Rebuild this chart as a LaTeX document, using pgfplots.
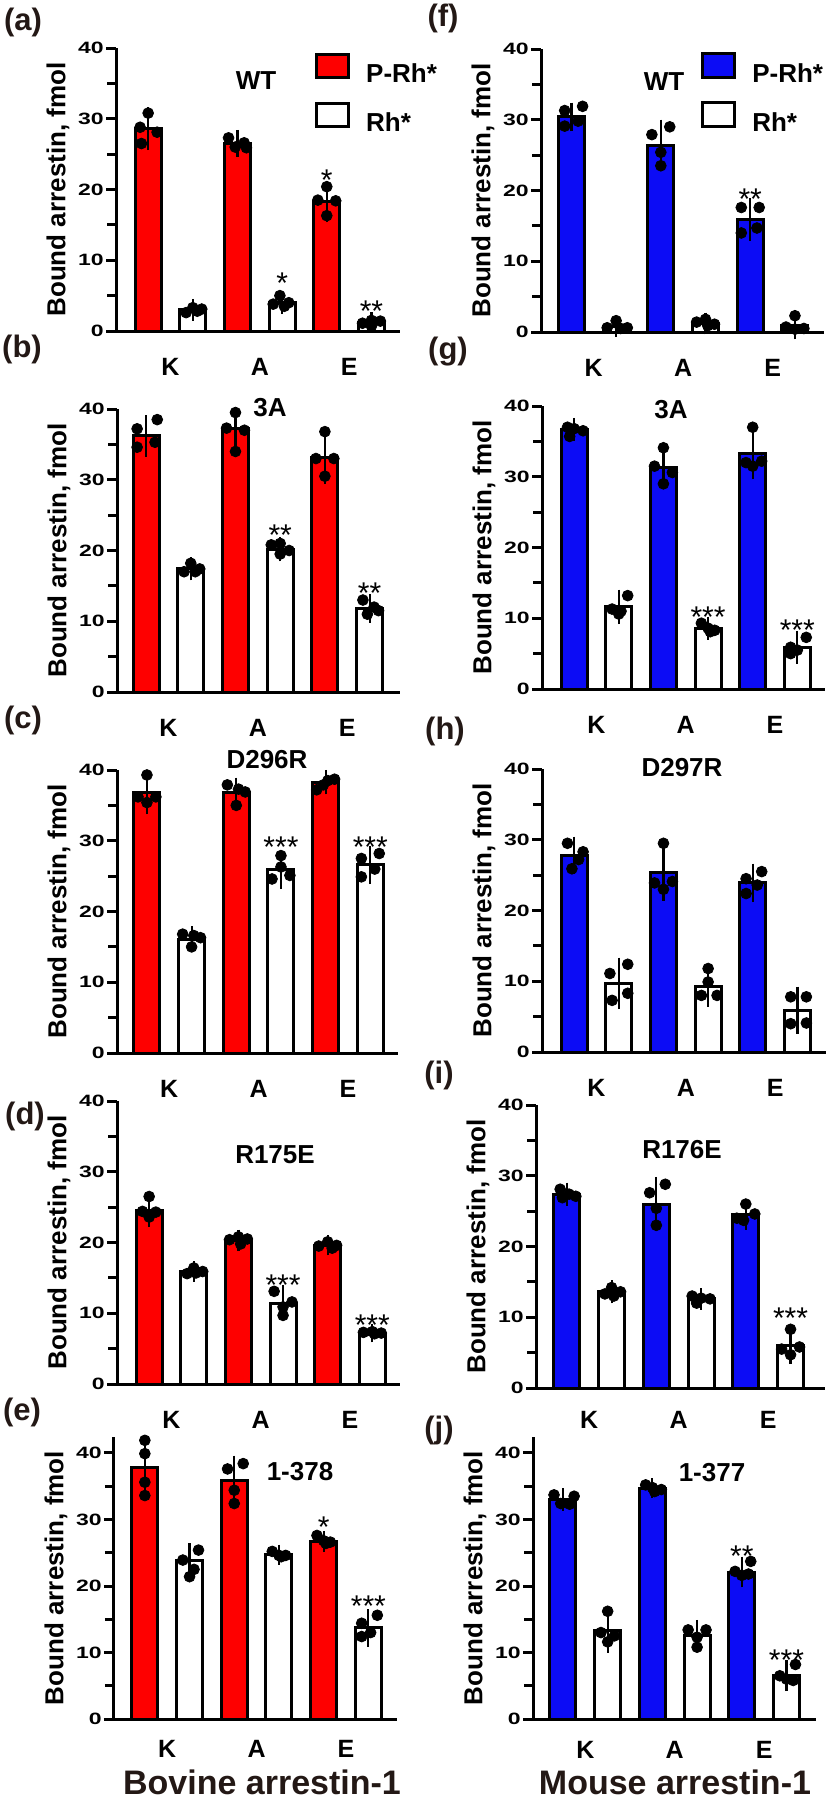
\documentclass[border=0pt]{standalone}
\usepackage{fontspec}
\setmainfont{Liberation Sans}
\usepackage{graphicx}
\usepackage{pgfplots}
\pgfplotsset{compat=1.18}

\definecolor{pred}{RGB}{254,0,0}
\definecolor{pblue}{RGB}{12,12,245}
\definecolor{labcol}{RGB}{35,24,21}

\pgfplotsset{
  panel/.style={
    scale only axis, anchor=south west, height=141.5pt,
    ymin=0, ymax=40, ytick={0,10,20,30,40}, minor ytick={5,15,25,35},
    xtick=\empty,
    axis x line=bottom, axis y line=left,
    axis line style={-, line width=1.5pt},
    tick align=outside, major tick length=5pt, minor tick length=4.5pt,
    tick style={line width=1.5pt, black},
    yticklabel={\scalebox{1.4}[1]{\pgfmathprintnumber{\tick}}},
    yticklabel style={font=\bfseries\fontsize{8.2}{8.2}\selectfont, inner sep=1pt},
    /pgf/number format/assume math mode=true,
    ylabel={Bound arrestin, fmol},
    every axis y label/.style={at={(axis description cs:0,0.5)}, xshift=-29pt,
      rotate=90, anchor=center, font=\bfseries\fontsize{13}{13}\selectfont},
    clip=false,
  },
  pbar/.style={ybar, bar width=13pt, bar shift=0pt, draw=black, line width=1.5pt, fill=#1},
  ebar/.style={draw=none, mark=none, forget plot,
    error bars/.cd, y dir=both, y explicit,
    error bar style={draw=black, line width=1.1pt},
    error mark options={draw=black, line width=1.1pt, mark size=4pt}},
  dots/.style={only marks, mark=*, mark size=2.7pt, black, forget plot},
  keyleg/.style={
    legend style={draw=none, fill=none, inner sep=0pt, row sep=8pt,
      font=\bfseries\fontsize{13}{13}\selectfont,
      nodes={inner sep=0pt}, column sep=8pt},
    legend cell align=left,
    legend image code/.code={\draw[##1, line width=1.5pt] (0pt,-1.4pt) rectangle (16pt,10.3pt);},
  },
}
\tikzset{
  klab/.style={font=\bfseries\fontsize{12.5}{12.5}\selectfont, yshift=-#1},
  klab/.default=18pt,
  star/.style={font=\fontsize{15}{15}\selectfont, anchor=base, yshift=-8.5pt, inner sep=0pt},
  ttl/.style={font=\bfseries\fontsize{13}{13}\selectfont},
  plab/.style={font=\bfseries\fontsize{15.5}{15.5}\selectfont, text=labcol, inner sep=0pt},
  btitle/.style={font=\bfseries\fontsize{17}{17}\selectfont, text=labcol, inner sep=0pt},
}

\begin{document}
\begin{tikzpicture}
\useasboundingbox (0pt,0pt) rectangle (413.5pt,-900pt);

% ---------------- (a) bovine WT
\begin{axis}[panel, keyleg, at={(58pt,-165.5pt)}, width=142pt, xmin=0.28, xmax=6.64,
  legend style={at={(axis description cs:0.70,0.985)}, anchor=north west}]
\addplot[pbar=pred] coordinates {(1,28.6) (3,26.5) (5,18.3)};
\addlegendentry{P-Rh*}
\addplot[pbar=white] coordinates {(2,3.0) (4,4.0) (6,1.2)};
\addlegendentry{Rh*}
\addplot[ebar] coordinates {(1,28.6) +- (0,1.9) (3,26.5) +- (0,0.8) (5,18.3) +- (0,1.8)
  (2,3.0) +- (0,0.4) (4,4.0) +- (0,0.5) (6,1.2) +- (0,0.3)};
\addplot[dots] coordinates {(0.82,28.8) (1.0,30.8) (1.2,28.1) (0.85,26.5)
  (1.85,2.6) (2.0,3.3) (2.2,3.1) (2.1,2.8)
  (2.8,27.3) (2.95,26.0) (3.15,26.6) (3.2,25.9)
  (3.95,5.0) (3.8,3.8) (4.15,4.0) (4.05,3.5)
  (4.8,18.5) (5.0,20.4) (5.2,18.4) (5.0,16.3)
  (5.8,1.1) (6.0,1.5) (6.2,1.4) (6.0,0.7)};
\node[star] at (axis cs:4,7.7) {*};
\node[star] at (axis cs:5,22.3) {*};
\node[star] at (axis cs:6,3.7) {**};
\node[klab] at (axis cs:1.5,0) {K};
\node[klab] at (axis cs:3.5,0) {A};
\node[klab] at (axis cs:5.5,0) {E};
\end{axis}

% ---------------- (b) bovine 3A
\begin{axis}[panel, at={(58.5pt,-346pt)}, width=141.5pt, xmin=0.35, xmax=6.68]
\addplot[pbar=pred] coordinates {(1,36.2) (3,37.2) (5,33.2)};
\addplot[pbar=white] coordinates {(2,17.4) (4,20.2) (6,11.8)};
\addplot[ebar] coordinates {(1,36.2) +- (0,1.8) (3,37.2) +- (0,1.8) (5,33.2) +- (0,2.7)
  (2,17.4) +- (0,0.5) (4,20.2) +- (0,0.6) (6,11.8) +- (0,0.9)};
\addplot[dots] coordinates {(0.8,37.2) (1.25,38.5) (0.8,34.6) (1.2,35.3)
  (1.85,17.0) (2.0,18.2) (2.2,17.4) (2.1,17.0)
  (2.8,37.3) (3.0,39.5) (3.0,34.0) (3.2,37.0)
  (3.8,20.8) (4.0,21.0) (4.2,20.0) (4.0,19.5)
  (5.0,36.8) (4.8,33.0) (5.2,33.0) (5.0,30.5)
  (5.85,13.0) (6.1,12.0) (6.2,11.5) (5.95,11.0)};
\node[star] at (axis cs:4,23.1) {**};
\node[star] at (axis cs:6,14.9) {**};
\node[klab] at (axis cs:1.5,0) {K};
\node[klab] at (axis cs:3.5,0) {A};
\node[klab] at (axis cs:5.5,0) {E};
\end{axis}

% ---------------- (c) bovine D296R
\begin{axis}[panel, at={(58.5pt,-526.5pt)}, width=140.5pt, xmin=0.33, xmax=6.62]
\addplot[pbar=pred] coordinates {(1,36.8) (3,36.8) (5,38.3)};
\addplot[pbar=white] coordinates {(2,16.1) (4,25.9) (6,26.6)};
\addplot[ebar] coordinates {(1,36.8) +- (0,1.9) (3,36.8) +- (0,1.0) (5,38.3) +- (0,0.6)
  (2,16.1) +- (0,0.7) (4,25.9) +- (0,1.6) (6,26.6) +- (0,1.6)};
\addplot[dots] coordinates {(1.0,39.3) (0.8,36.2) (1.2,36.2) (1.0,35.4)
  (1.8,16.8) (2.05,16.6) (2.2,16.3) (2.0,15.0)
  (2.8,37.9) (3.05,37.3) (3.2,36.9) (3.0,35.0)
  (4.0,27.9) (3.8,24.6) (4.2,25.1) (4.0,26.3)
  (4.8,37.2) (5.2,38.7) (5.05,38.5) (4.95,37.9)
  (6.2,28.2) (5.8,27.5) (5.8,24.9) (6.1,26.0)};
\node[star] at (axis cs:4,30.1) {***};
\node[star] at (axis cs:6,30.1) {***};
\node[klab] at (axis cs:1.5,0) {K};
\node[klab] at (axis cs:3.5,0) {A};
\node[klab] at (axis cs:5.5,0) {E};
\end{axis}

% ---------------- (d) bovine R175E
\begin{axis}[panel, at={(58.5pt,-692pt)}, width=141.5pt, xmin=0.28, xmax=6.62]
\addplot[pbar=pred] coordinates {(1,24.5) (3,20.3) (5,19.6)};
\addplot[pbar=white] coordinates {(2,15.9) (4,11.4) (6,7.2)};
\addplot[ebar] coordinates {(1,24.5) +- (0,1.2) (3,20.3) +- (0,0.4) (5,19.6) +- (0,0.3)
  (2,15.9) +- (0,0.3) (4,11.4) +- (0,1.4) (6,7.2) +- (0,0.2)};
\addplot[dots] coordinates {(1.0,26.5) (0.85,24.4) (1.15,24.3) (1.0,23.6)
  (1.85,15.6) (2.0,16.4) (2.2,15.9) (2.05,15.7)
  (2.8,20.4) (3.0,20.8) (3.2,20.5) (3.05,19.8)
  (3.8,13.1) (4.0,9.7) (4.2,11.6) (4.0,10.9)
  (4.8,19.5) (5.0,20.1) (5.2,19.6) (5.1,19.2)
  (5.8,7.3) (6.0,7.4) (6.2,7.2) (6.05,7.1)};
\node[star] at (axis cs:4,14.9) {***};
\node[star] at (axis cs:6,9.3) {***};
\node[klab] at (axis cs:1.5,0) {K};
\node[klab] at (axis cs:3.5,0) {A};
\node[klab] at (axis cs:5.5,0) {E};
\end{axis}

% ---------------- (e) bovine 1-378
\begin{axis}[panel, at={(57pt,-859.5pt)}, width=141.5pt, height=141pt, ymax=42.4, xmin=0.31, xmax=6.64]
\addplot[pbar=pred] coordinates {(1,37.8) (3,35.9) (5,26.7)};
\addplot[pbar=white] coordinates {(2,23.8) (4,24.7) (6,13.7)};
\addplot[ebar] coordinates {(1,37.8) +- (0,3.5) (3,35.9) +- (0,2.5) (5,26.7) +- (0,0.4)
  (2,23.8) +- (0,1.4) (4,24.7) +- (0,0.3) (6,13.7) +- (0,1.6)};
\addplot[dots] coordinates {(1.0,41.9) (1.0,39.9) (1.0,35.6) (1.0,33.6)
  (2.2,25.4) (1.85,23.9) (2.0,21.4) (2.1,22.5)
  (3.2,38.4) (2.85,37.6) (3.0,32.4) (3.0,34.4)
  (3.85,25.2) (4.0,24.6) (4.15,24.6) (4.05,24.4)
  (4.85,27.6) (5.0,26.8) (5.15,26.6) (5.05,26.4)
  (6.2,15.6) (5.85,14.4) (5.85,12.4) (6.05,13.0)};
\node[star] at (axis cs:5,29.9) {*};
\node[star] at (axis cs:6,17.9) {***};
\node[klab=15pt] at (axis cs:1.5,0) {K};
\node[klab=15pt] at (axis cs:3.5,0) {A};
\node[klab=15pt] at (axis cs:5.5,0) {E};
\end{axis}

% ---------------- (f) mouse WT
\begin{axis}[panel, keyleg, at={(270.5pt,-166pt)}, width=141.5pt, xmin=0.32, xmax=6.65,
  legend style={at={(axis description cs:0.565,0.99)}, anchor=north west}]
\addplot[pbar=pblue] coordinates {(1,30.4) (3,26.4) (5,15.9)};
\addlegendentry{P-Rh*}
\addplot[pbar=white] coordinates {(2,0.8) (4,1.2) (6,0.9)};
\addlegendentry{Rh*}
\addplot[ebar] coordinates {(1,30.4) +- (0,0.9) (3,26.4) +- (0,2.5) (5,15.9) +- (0,1.9)
  (2,0.8) +- (0,0.4) (4,1.2) +- (0,0.4) (6,0.9) +- (0,0.8)};
\addplot[dots] coordinates {(0.85,31.3) (1.25,31.9) (0.85,29.1) (1.15,29.8)
  (2.0,1.6) (1.8,0.6) (2.1,0.5) (2.25,0.6)
  (2.8,27.9) (3.2,29.0) (3.0,25.4) (3.0,23.5)
  (3.8,1.4) (4.0,1.8) (4.2,1.1) (4.05,0.9)
  (4.8,17.6) (5.2,17.6) (4.8,14.0) (5.15,14.7)
  (6.0,2.3) (5.8,0.7) (6.2,0.5) (6.0,0.4)};
\node[star] at (axis cs:5,19.7) {**};
\node[klab] at (axis cs:1.5,0) {K};
\node[klab] at (axis cs:3.5,0) {A};
\node[klab] at (axis cs:5.5,0) {E};
\end{axis}

% ---------------- (g) mouse 3A
\begin{axis}[panel, at={(271pt,-344.5pt)}, width=141.5pt, xmin=0.28, xmax=6.62]
\addplot[pbar=pblue] coordinates {(1,36.7) (3,31.3) (5,33.3)};
\addplot[pbar=white] coordinates {(2,11.6) (4,8.6) (6,5.9)};
\addplot[ebar] coordinates {(1,36.7) +- (0,0.5) (3,31.3) +- (0,1.9) (5,33.3) +- (0,2.5)
  (2,11.6) +- (0,1.3) (4,8.6) +- (0,0.5) (6,5.9) +- (0,1.2)};
\addplot[dots] coordinates {(0.85,37.0) (1.0,36.8) (1.2,36.5) (0.9,35.7)
  (2.2,13.2) (1.85,11.3) (2.05,11.0) (2.0,10.6)
  (3.0,34.1) (2.8,31.5) (3.2,30.6) (3.0,29.0)
  (3.85,9.3) (4.0,8.6) (4.15,8.3) (4.05,8.1)
  (5.0,37.0) (4.85,32.0) (5.2,32.2) (5.0,31.5)
  (6.2,7.3) (5.85,5.9) (6.0,5.5) (5.85,5.0)};
\node[star] at (axis cs:4,11.1) {***};
\node[star] at (axis cs:6,9.2) {***};
\node[klab] at (axis cs:1.5,0) {K};
\node[klab] at (axis cs:3.5,0) {A};
\node[klab] at (axis cs:5.5,0) {E};
\end{axis}

% ---------------- (h) mouse D297R
\begin{axis}[panel, at={(271pt,-526pt)}, width=142pt, xmin=0.28, xmax=6.64]
\addplot[pbar=pblue] coordinates {(1,27.8) (3,25.4) (5,23.9)};
\addplot[pbar=white] coordinates {(2,9.7) (4,9.3) (6,5.9)};
\addplot[ebar] coordinates {(1,27.8) +- (0,1.5) (3,25.4) +- (0,2.9) (5,23.9) +- (0,1.6)
  (2,9.7) +- (0,2.5) (4,9.3) +- (0,1.8) (6,5.9) +- (0,2.2)};
\addplot[dots] coordinates {(0.85,29.5) (1.2,28.3) (0.95,25.9) (1.1,27.2)
  (2.2,12.4) (1.8,11.1) (2.2,8.3) (1.85,7.3)
  (3.0,29.5) (2.8,23.9) (3.2,24.1) (3.0,23.0)
  (4.0,11.8) (4.0,9.9) (3.85,8.0) (4.2,8.0)
  (5.2,25.5) (4.85,24.5) (5.1,23.6) (4.85,22.4)
  (5.85,7.8) (6.2,7.8) (5.85,4.0) (6.2,4.1)};
\node[klab] at (axis cs:1.5,0) {K};
\node[klab] at (axis cs:3.5,0) {A};
\node[klab] at (axis cs:5.5,0) {E};
\end{axis}

% ---------------- (i) mouse R176E
\begin{axis}[panel, at={(268pt,-694pt)}, width=144.5pt, xmin=0.31, xmax=6.77]
\addplot[pbar=pblue] coordinates {(1,27.4) (3,26.0) (5,24.5)};
\addplot[pbar=white] coordinates {(2,13.6) (4,12.6) (6,6.0)};
\addplot[ebar] coordinates {(1,27.4) +- (0,0.5) (3,26.0) +- (0,2.7) (5,24.5) +- (0,1.0)
  (2,13.6) +- (0,0.5) (4,12.6) +- (0,0.4) (6,6.0) +- (0,1.5)};
\addplot[dots] coordinates {(0.85,28.1) (1.05,27.4) (1.2,27.1) (0.9,26.9)
  (1.85,13.3) (2.0,14.2) (2.2,13.6) (2.05,13.0)
  (3.2,28.8) (2.85,27.6) (3.0,25.4) (3.0,23.0)
  (3.8,13.0) (4.0,12.7) (4.2,12.6) (3.9,12.0)
  (5.0,26.0) (4.8,24.0) (5.2,24.6) (4.95,23.7)
  (6.0,8.3) (5.8,5.5) (6.2,5.8) (6.0,4.7)};
\node[star] at (axis cs:6,10.8) {***};
\node[klab=16pt] at (axis cs:1.5,0) {K};
\node[klab=16pt] at (axis cs:3.5,0) {A};
\node[klab=16pt] at (axis cs:5.5,0) {E};
\end{axis}

% ---------------- (j) mouse 1-377
\begin{axis}[panel, at={(266.5pt,-859.5pt)}, width=141.5pt, height=141pt, ymax=42.4, xmin=0.33, xmax=6.66]
\addplot[pbar=pblue] coordinates {(1,33.0) (3,34.7) (5,22.1)};
\addplot[pbar=white] coordinates {(2,13.3) (4,12.6) (6,6.5)};
\addplot[ebar] coordinates {(1,33.0) +- (0,0.5) (3,34.7) +- (0,0.3) (5,22.1) +- (0,1.1)
  (2,13.3) +- (0,2.1) (4,12.6) +- (0,1.1) (6,6.5) +- (0,1.1)};
\addplot[dots] coordinates {(0.8,33.7) (1.25,33.5) (0.95,32.4) (1.15,32.3)
  (2.0,16.2) (1.85,13.0) (2.15,12.5) (2.0,11.6)
  (2.85,35.2) (3.0,34.8) (3.2,34.5) (3.05,34.2)
  (3.8,13.4) (4.2,13.4) (4.0,12.3) (4.0,10.8)
  (5.2,23.7) (4.85,22.2) (5.0,21.6) (5.15,21.8)
  (6.2,8.2) (5.85,6.5) (6.0,6.0) (6.15,5.8)};
\node[star] at (axis cs:5,25.5) {**};
\node[star] at (axis cs:6,9.9) {***};
\node[klab=15.5pt] at (axis cs:1.5,0) {K};
\node[klab=15.5pt] at (axis cs:3.5,0) {A};
\node[klab=15.5pt] at (axis cs:5.5,0) {E};
\end{axis}

% ---------------- titles, panel letters, column captions (pixel grid)
\begin{scope}[x=0.5pt, y=-0.5pt]
\node[ttl] at (256,81) {WT};
\node[ttl] at (270,408) {3A};
\node[ttl] at (267,760) {D296R};
\node[ttl] at (275,1155) {R175E};
\node[ttl] at (300,1472) {1-378};
\node[ttl] at (664,82) {WT};
\node[ttl] at (671,410) {3A};
\node[ttl] at (682,768) {D297R};
\node[ttl] at (682,1150) {R176E};
\node[ttl] at (712,1473) {1-377};
\node[plab] at (23,22) {(a)};
\node[plab] at (22,349) {(b)};
\node[plab] at (23,720) {(c)};
\node[plab] at (25,1116) {(d)};
\node[plab] at (22,1412) {(e)};
\node[plab] at (443,18) {(f)};
\node[plab] at (448,352) {(g)};
\node[plab] at (445,731) {(h)};
\node[plab] at (439,1075) {(i)};
\node[plab] at (439,1430) {(j)};
\node[btitle] at (262,1782) {Bovine arrestin-1};
\node[btitle] at (675,1782) {Mouse arrestin-1};
\end{scope}
\end{tikzpicture}
\end{document}
